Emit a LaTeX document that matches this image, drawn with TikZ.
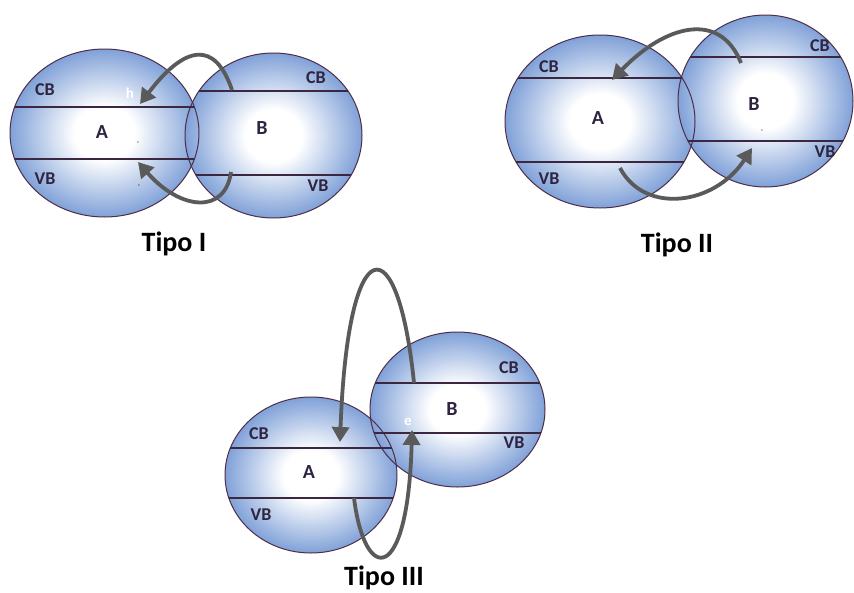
\documentclass[tikz,border=0pt]{standalone}
\usepackage{fontspec}
\setmainfont{Carlito}
\usetikzlibrary{arrows.meta}
\definecolor{edgeblue}{HTML}{80A1D8}
\definecolor{rimcol}{HTML}{4E2E48}
\definecolor{bandcol}{HTML}{3B2840}
\definecolor{labcol}{HTML}{2E2440}
\definecolor{arrcol}{HTML}{5A5A5A}
\pgfdeclareradialshading{bandshade}{\pgfpoint{0bp}{0bp}}{color(0bp)=(white); color(8bp)=(white); color(25bp)=(edgeblue); color(50bp)=(edgeblue)}
\tikzset{
  lab/.style={font=\bfseries\fontsize{18}{18}\selectfont, text=labcol, inner sep=0pt},
  big/.style={font=\bfseries\fontsize{20}{20}\selectfont, text=labcol, inner sep=0pt},
  title/.style={font=\bfseries\fontsize{28}{28}\selectfont, text=black, inner sep=0pt},
  ghost/.style={font=\bfseries\fontsize{15}{15}\selectfont, text=white, inner sep=0pt},
  tick/.style={font=\fontsize{7}{7}\selectfont, text=black, inner sep=0pt},
  rim/.style={draw=rimcol, line width=1pt},
  bandline/.style={draw=bandcol, line width=1.8pt},
  arr/.style={draw=arrcol, line width=3.8pt, -{Triangle[length=15pt,width=17pt]}},
}
\begin{document}
\begin{tikzpicture}[x=1pt,y=-1pt]
\useasboundingbox (0,0) rectangle (854,592);
\fill[white] (0,0) rectangle (854,592);

% ---------- shaded bodies ----------
\shade[shading=bandshade] (104.5,133) ellipse [x radius=94.5, y radius=84];
\shade[shading=bandshade] (273.5,135.5) ellipse [x radius=88.5, y radius=82.5];
\shade[shading=bandshade] (600,121.5) ellipse [x radius=95, y radius=86.5];
\shade[shading=bandshade] (765.5,101) ellipse [x radius=87.5, y radius=86];
\shade[shading=bandshade] (311,475) ellipse [x radius=86, y radius=78];
\shade[shading=bandshade] (457.5,409.5) ellipse [x radius=87.5, y radius=77.5];

% ---------- outlines ----------
\draw[rim] (104.5,133) ellipse [x radius=94.5, y radius=84];
\draw[rim] (273.5,135.5) ellipse [x radius=88.5, y radius=82.5];
\draw[rim] (600,121.5) ellipse [x radius=95, y radius=86.5];
\draw[rim] (765.5,101) ellipse [x radius=87.5, y radius=86];
\draw[rim] (311,475) ellipse [x radius=86, y radius=78];
\draw[rim] (457.5,409.5) ellipse [x radius=87.5, y radius=77.5];

% ---------- band edges ----------
\begin{scope}
\clip (104.5,133) ellipse [x radius=94.5, y radius=84];
\draw[bandline] (0,107) -- (220,107);
\draw[bandline] (0,159) -- (220,159);
\end{scope}
\begin{scope}
\clip (273.5,135.5) ellipse [x radius=88.5, y radius=82.5];
\draw[bandline] (180,91) -- (370,91);
\draw[bandline] (180,175) -- (370,175);
\end{scope}
\begin{scope}
\clip (600,121.5) ellipse [x radius=95, y radius=86.5];
\draw[bandline] (500,78) -- (700,78);
\draw[bandline] (500,162) -- (700,162);
\end{scope}
\begin{scope}
\clip (765.5,101) ellipse [x radius=87.5, y radius=86];
\draw[bandline] (670,57) -- (860,57);
\draw[bandline] (670,141) -- (860,141);
\end{scope}
\begin{scope}
\clip (311,475) ellipse [x radius=86, y radius=78];
\draw[bandline] (220,448) -- (400,448);
\draw[bandline] (220,498) -- (400,498);
\end{scope}
\begin{scope}
\clip (457.5,409.5) ellipse [x radius=87.5, y radius=77.5];
\draw[bandline] (365,383) -- (550,383);
\draw[bandline] (365,433) -- (550,433);
\end{scope}

% ---------- labels ----------
\node[lab] (cb1a) at (45,90) {CB};
\node[big] (a1) at (102,132) {A};
\node[lab] (vb1a) at (45,179) {VB};
\node[lab] (cb1b) at (316,78) {CB};
\node[big] (b1) at (262,128) {B};
\node[lab] (vb1b) at (318,186) {VB};

\node[lab] (cb2a) at (549,67) {CB};
\node[big] (a2) at (598,118) {A};
\node[lab] (vb2a) at (549,179) {VB};
\node[lab] (cb2b) at (820,46) {CB};
\node[big] (b2) at (754,104) {B};
\node[lab] (vb2b) at (825,152) {VB};

\node[lab] (cb3a) at (259,434) {CB};
\node[big] (a3) at (309,472) {A};
\node[lab] (vb3a) at (261,515) {VB};
\node[lab] (cb3b) at (509,368) {CB};
\node[big] (b3) at (452,409) {B};
\node[lab] (vb3b) at (514,443) {VB};

% faint residues
\node[ghost] (h1) at (130,93) {h};
\node[ghost] (e3) at (408,422) {e};
\node[tick] (t1) at (138,143) {-};
\node[tick] (t2) at (139,186) {-};
\node[tick] (t3) at (762,131) {-};

% ---------- titles ----------
\node[title] (tt1) at (174,244) {Tipo I};
\node[title] (tt2) at (677,245) {Tipo II};
\node[title,anchor=base] (tt3) at (384,585) {Tipo III};

% ---------- arrows ----------
\coordinate (u1s) at (232,90);   \coordinate (u1e) at (140,104);
\coordinate (l1s) at (231,172);  \coordinate (l1e) at (138,162);
\coordinate (u2s) at (741,63);   \coordinate (u2e) at (612,80);
\coordinate (l2s) at (620,168);  \coordinate (l2e) at (752,148);
\coordinate (u3s) at (414,383);  \coordinate (u3e) at (340,442);
\coordinate (l3s) at (354,498);  \coordinate (l3e) at (412,430);

\draw[arr] (u1s) .. controls (215,40) and (185,45) .. (u1e);
\draw[arr] (l1s) .. controls (225,215) and (180,210) .. (l1e);
\draw[arr] (u2s) .. controls (720,10) and (665,25) .. (u2e);
\draw[arr] (l2s) .. controls (645,215) and (715,205) .. (l2e);
\draw[arr] (u3s) .. controls (398,225) and (348,225) .. (u3e);
\draw[arr] (l3s) .. controls (365,585) and (408,585) .. (l3e);
\end{tikzpicture}
\end{document}
